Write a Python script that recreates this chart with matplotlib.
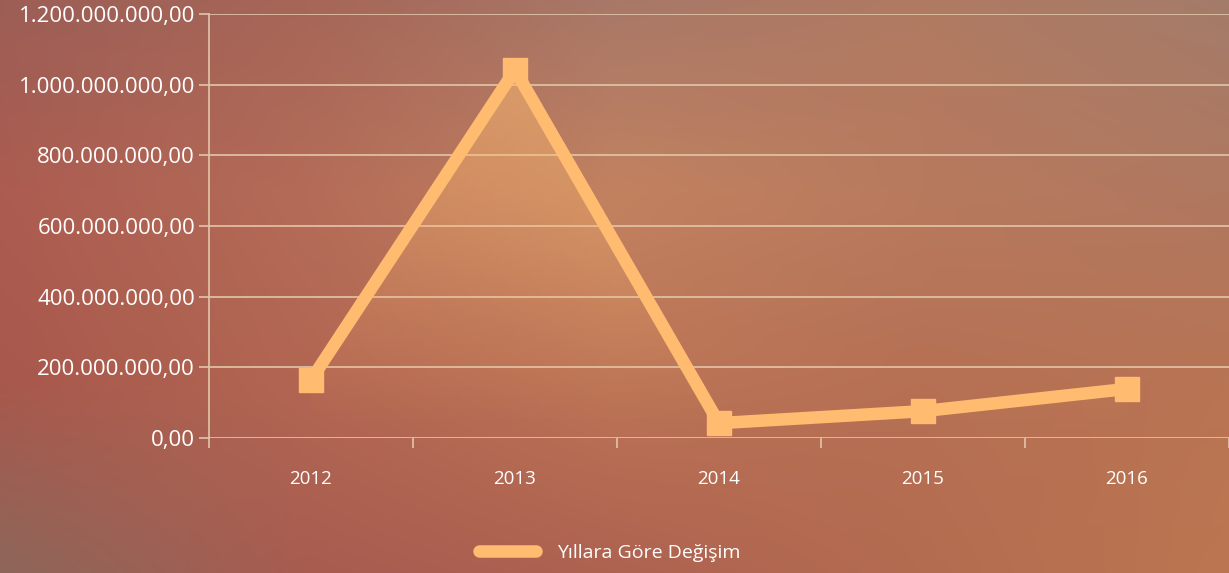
import numpy as np
import matplotlib
matplotlib.use("Agg")
import matplotlib.pyplot as plt
from matplotlib.patches import Polygon
from matplotlib.lines import Line2D

years = ["2012", "2013", "2014", "2015", "2016"]
values = [164e6, 1042e6, 42e6, 76e6, 139e6]
yticks = [0, 200e6, 400e6, 600e6, 800e6, 1000e6, 1200e6]
series_name = "Yıllara Göre Değişim"

LINE = "#FFBC70"
GRID = "#E2C6AA"
TXT = "#FFFFFF"

def tr_fmt(v):
    s = f"{int(round(v)):,}".replace(",", ".")
    return s + ",00"

W, H = 1229, 573
fig = plt.figure(figsize=(W / 100, H / 100), dpi=100)

# background blurred gradient
grid_cols = np.array([
    [[0x9C, 0x5E, 0x56], [0xA6, 0x66, 0x58], [0xA8, 0x78, 0x68], [0xB0, 0x7A, 0x62], [0xA4, 0x7C, 0x6A]],
    [[0xAC, 0x5C, 0x50], [0xB4, 0x6C, 0x58], [0xC2, 0x82, 0x60], [0xB8, 0x7A, 0x5E], [0xB0, 0x78, 0x60]],
    [[0xA8, 0x58, 0x4C], [0xB2, 0x66, 0x52], [0xBC, 0x74, 0x56], [0xB6, 0x70, 0x54], [0xB8, 0x74, 0x54]],
    [[0x8E, 0x66, 0x5A], [0xA8, 0x5C, 0x50], [0xAE, 0x62, 0x50], [0xB4, 0x6C, 0x50], [0xBC, 0x76, 0x50]],
], dtype=float) / 255.0
gy, gx = grid_cols.shape[:2]
ys = np.linspace(0, gy - 1, H)
xs = np.linspace(0, gx - 1, W)
y0 = np.clip(np.floor(ys).astype(int), 0, gy - 2)
x0 = np.clip(np.floor(xs).astype(int), 0, gx - 2)
fy = (ys - y0)[:, None, None]
fx = (xs - x0)[None, :, None]
c00 = grid_cols[y0][:, x0]
c01 = grid_cols[y0][:, x0 + 1]
c10 = grid_cols[y0 + 1][:, x0]
c11 = grid_cols[y0 + 1][:, x0 + 1]
img = (c00 * (1 - fy) * (1 - fx) + c01 * (1 - fy) * fx + c10 * fy * (1 - fx) + c11 * fy * fx)
bg = fig.add_axes([0, 0, 1, 1], zorder=-10)
bg.imshow(img, aspect="auto", interpolation="bilinear")
bg.axis("off")

# plot area: x 209..1229, y 14..438 (pixels from top)
left, right, top, bottom = 209, 1229, 14, 438
ax = fig.add_axes([left / W, 1 - bottom / H, (right - left) / W, (bottom - top) / H])
ax.patch.set_alpha(0)
x = np.arange(len(years))
ax.set_xlim(-0.5, len(years) - 0.5)
ax.set_ylim(0, 1200e6)

for t in yticks:
    ax.axhline(t, color=GRID, lw=1.2, zorder=1)

# gradient fill under line
xx = np.linspace(-0.0, len(years) - 1, 600)
yy = np.interp(xx, x, values)
grad = np.linspace(0, 1, 256)[:, None]
rgba = np.zeros((256, 1, 4))
rgba[..., 0] = 1.0
rgba[..., 1] = 0xBC / 255
rgba[..., 2] = 0x70 / 255
rgba[..., 3] = (grad ** 1.2 * 0.55)[:, :]
im = ax.imshow(rgba, extent=[x[0], x[-1], 0, max(values)], origin="lower", aspect="auto", zorder=2)
poly = Polygon(np.column_stack([np.r_[x[0], xx, x[-1]], np.r_[0, yy, 0]]), closed=True,
               facecolor="none", edgecolor="none")
ax.add_patch(poly)
im.set_clip_path(poly)

ax.plot(x, values, color=LINE, lw=9, solid_joinstyle="miter", zorder=3)
ax.plot(x, values, ls="none", marker="s", ms=17.5, color=LINE, zorder=4)

ax.set_yticks(yticks)
ax.set_yticklabels([tr_fmt(v) for v in yticks])
ax.set_xticks(np.arange(-0.5, len(years) + 0.5, 1.0))
ax.set_xticks(x, minor=True)
ax.set_xticklabels([])
ax.set_xticklabels(years, minor=True)
ax.tick_params(axis="x", which="major", length=7, width=1.2, color=GRID)
ax.tick_params(axis="x", which="minor", length=0, pad=23, labelsize=13.5, labelcolor=TXT)
ax.tick_params(axis="y", length=7, width=1.2, color=GRID, labelsize=16, labelcolor=TXT, pad=3)
for lab in ax.get_yticklabels() + ax.get_xticklabels(minor=True):
    lab.set_fontfamily("Open Sans")

for s in ["top", "right"]:
    ax.spines[s].set_visible(False)
ax.spines["left"].set_color(GRID)
ax.spines["left"].set_linewidth(1.2)
ax.spines["bottom"].set_visible(False)
ax.set_ylim(0, 1200e6)

handle = Line2D([0], [0], color=LINE, lw=9, solid_capstyle="round")
fig.legend([handle], [series_name], loc="center", bbox_to_anchor=(610 / W, 1 - 553 / H),
           frameon=False, handlelength=2.9, handletextpad=1.1,
           prop={"family": "Open Sans", "size": 14}, labelcolor=TXT)

fig.savefig("out.png", dpi=100)
